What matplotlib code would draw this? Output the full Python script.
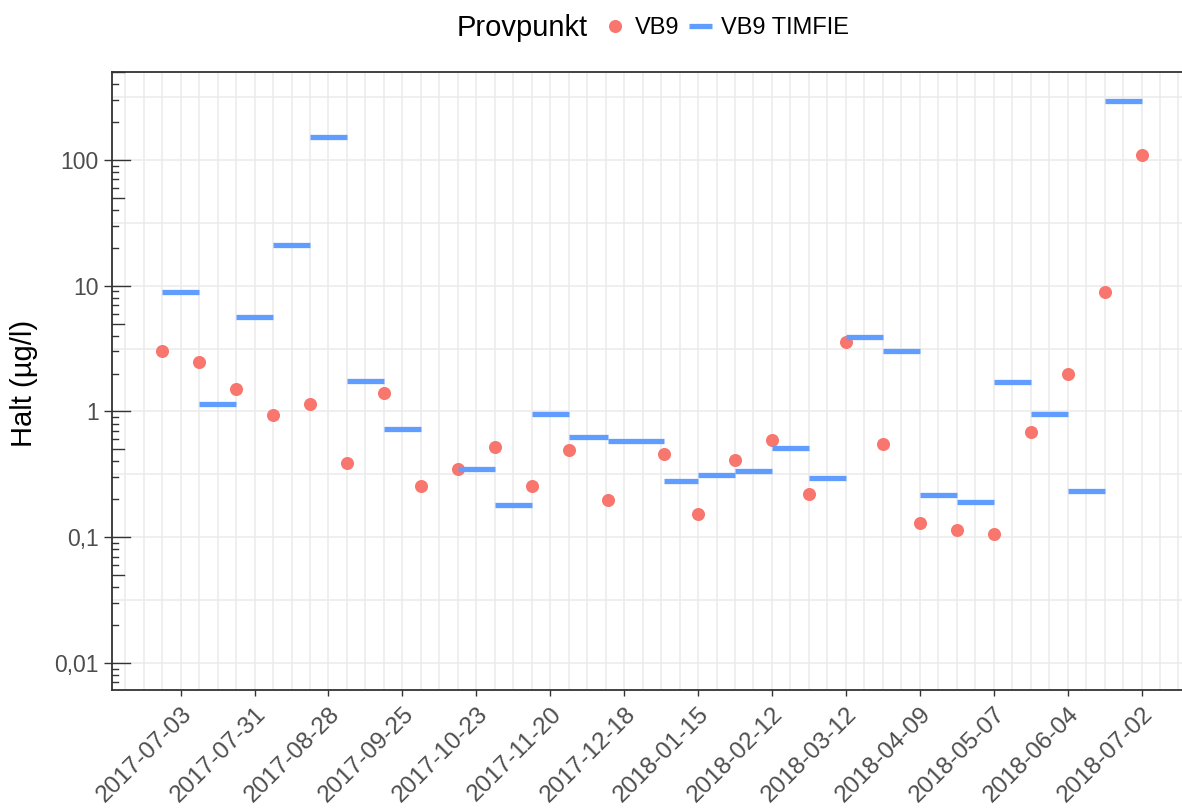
import numpy as np
import matplotlib
matplotlib.use('Agg')
import matplotlib.pyplot as plt
import matplotlib.dates as mdates
from matplotlib.lines import Line2D
from matplotlib.ticker import FixedLocator, NullFormatter

plt.rcParams['font.family'] = ['Liberation Sans', 'DejaVu Sans']

# ---------------- data ----------------
sample_dates = ['2017-06-26', '2017-07-10', '2017-07-24', '2017-08-07', '2017-08-21',
                '2017-09-04', '2017-09-18', '2017-10-02', '2017-10-16', '2017-10-30',
                '2017-11-13', '2017-11-27', '2017-12-12', '2018-01-02', '2018-01-15',
                '2018-01-29', '2018-02-12', '2018-02-26', '2018-03-12', '2018-03-26',
                '2018-04-09', '2018-04-23', '2018-05-07', '2018-05-21', '2018-06-04',
                '2018-06-18', '2018-07-02']
vb9 = [3.0, 2.47, 1.51, 0.94, 1.14, 0.39, 1.40, 0.256, 0.35, 0.52,
       0.256, 0.49, 0.197, 0.458, 0.152, 0.41, 0.59, 0.22, 3.57, 0.546,
       0.13, 0.114, 0.106, 0.69, 1.97, 8.93, 110]
# time-weighted values for the interval between consecutive sample dates
vb9_timfie = [8.9, 1.15, 5.68, 21, 153, 1.75, 0.72, None, 0.348, 0.18,
              0.96, 0.63, 0.58, 0.28, 0.31, 0.337, 0.51, 0.295, 3.93, 3.04,
              0.216, 0.19, 1.71, 0.96, 0.234, 296]
x_tick_labels = ['2017-07-03', '2017-07-31', '2017-08-28', '2017-09-25', '2017-10-23',
                 '2017-11-20', '2017-12-18', '2018-01-15', '2018-02-12', '2018-03-12',
                 '2018-04-09', '2018-05-07', '2018-06-04', '2018-07-02']
y_tick_values = [0.01, 0.1, 1, 10, 100]
y_tick_labels = ['0,01', '0,1', '1', '10', '100']

RED = '#F8766D'
BLUE = '#619CFF'
AXC = '#333333'
TXT = '#4D4D4D'
GRID = '#EBEBEB'

W, H = 1182, 808
fig = plt.figure(figsize=(W / 100, H / 100), dpi=100)
ax = fig.add_axes([112 / W, 1 - 690 / H, (1182 - 112) / W, (690 - 72) / H])

dates = np.array(sample_dates, dtype='datetime64[D]')

ax.set_yscale('log')
ax.set_ylim(10 ** -2.216, 10 ** 2.70)
ax.set_xlim(np.datetime64('2017-06-07T00:00'), np.datetime64('2018-07-17T08:00'))

# grid
weekly = np.arange(np.datetime64('2017-06-12'), np.datetime64('2018-07-24'),
                   np.timedelta64(7, 'D'))
ax.xaxis.set_minor_locator(FixedLocator(mdates.date2num(weekly)))
ax.yaxis.set_minor_locator(FixedLocator([10 ** (k + 0.5) for k in range(-4, 4)]))
ax.yaxis.set_minor_formatter(NullFormatter())
ax.grid(which='both', color=GRID, lw=1.1)
ax.set_axisbelow(True)

# data
starts, ends, vals = [], [], []
for i, v in enumerate(vb9_timfie):
    if v is not None:
        starts.append(dates[i])
        ends.append(dates[i + 1])
        vals.append(v)
ax.scatter(dates, vb9, s=9.4 ** 2, color=RED, linewidths=0, zorder=3)
ax.hlines(vals, starts, ends, color=BLUE, lw=3.8, zorder=4)

# ticks
xt = np.array(x_tick_labels, dtype='datetime64[D]')
ax.set_xticks(mdates.date2num(xt))
ax.set_xticklabels(x_tick_labels, rotation=45, ha='right', va='top',
                   rotation_mode='anchor')
ax.set_yticks(y_tick_values)
ax.set_yticklabels(y_tick_labels)
ax.tick_params(axis='x', which='major', length=4.3, width=1.0, color=AXC,
               labelsize=17.5, labelcolor=TXT, pad=5)
ax.tick_params(axis='y', which='major', length=5.5, width=1.0, color=AXC,
               labelsize=16.5, labelcolor=TXT, pad=4)
ax.tick_params(which='minor', length=0)

# log ticks inside the left axis
axw = 1070.0
for k in range(-3, 3):
    for m in range(1, 10):
        v = m * 10 ** k
        if not (10 ** -2.216 <= v <= 10 ** 2.70):
            continue
        L = 18 if m == 1 else (12 if m == 5 else 6)
        ax.add_line(Line2D([0, L / axw], [v, v], transform=ax.get_yaxis_transform(),
                           color=AXC, lw=1.0, clip_on=False, zorder=5))

for s in ['left', 'bottom', 'top']:
    ax.spines[s].set_color(AXC)
    ax.spines[s].set_linewidth(1.3)
ax.spines['right'].set_visible(False)

ax.set_ylabel('Halt (µg/l)', fontsize=21, color='black', va='center', ha='center')
ax.yaxis.set_label_coords((24 - 112) / 1070, (690 - 383) / 618)

# legend
fig.text(457 / W, 1 - 36 / H, 'Provpunkt', fontsize=21, color='black',
         ha='left', va='baseline')
handles = [Line2D([], [], marker='o', ls='none', color=RED, markersize=9.4,
                  markeredgewidth=0),
           Line2D([], [], color=BLUE, lw=3.8, solid_capstyle='butt')]
fig.legend(handles, ['VB9', 'VB9 TIMFIE'], ncol=2, loc='center left',
           bbox_to_anchor=(603 / W, 1 - 28 / H), frameon=False, fontsize=17,
           borderpad=0, borderaxespad=0, handlelength=1.0, handletextpad=0.35,
           columnspacing=0.4)

fig.savefig('out.png', dpi=100)
